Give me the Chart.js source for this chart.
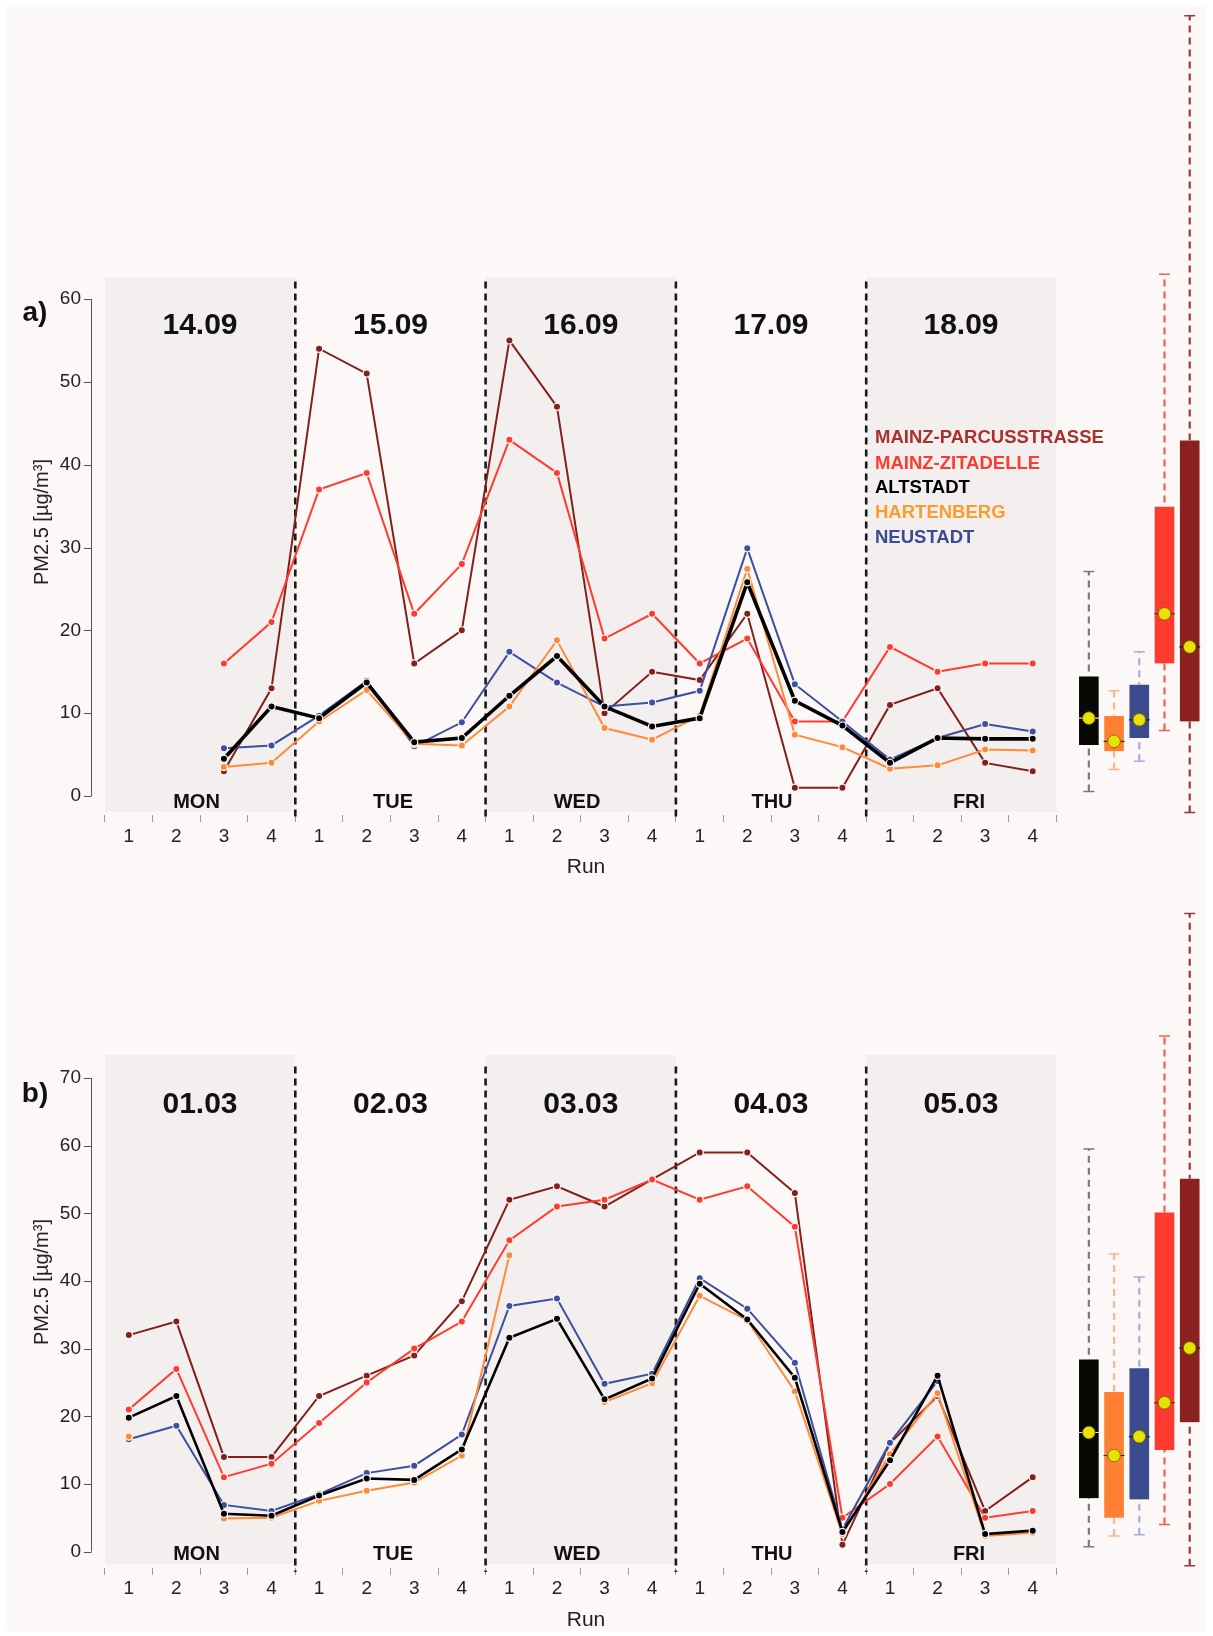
<!DOCTYPE html>
<html>
<head>
<meta charset="utf-8">
<script src="https://cdn.jsdelivr.net/npm/chart.js"></script>
<style>
  html, body { margin:0; padding:0; background:#ffffff; }
  #fig { position:relative; width:1213px; height:1636px; overflow:hidden; background:#ffffff; font-family:'Liberation Sans', Arial, sans-serif; }
  #inner { position:absolute; left:7px; top:5px; width:1199px; height:1626px; background:#fcf8f7; }
  canvas { position:absolute; left:0; }
  .t { position:absolute; white-space:nowrap; line-height:1; transform:translate(-50%,-50%); color:#111; }
  .l { position:absolute; white-space:nowrap; line-height:1; transform:translate(0,-50%); font-weight:bold; font-size:18.5px; }
</style>
</head>
<body>
<div id="fig">
  <div id="inner"></div>
  <canvas id="cA" width="1213" height="880" style="top:0px"></canvas>
  <canvas id="cB" width="1213" height="756" style="top:880px"></canvas>
</div>
<script>
// ---------------- DATA ----------------
const runLabels = ['1','2','3','4','1','2','3','4','1','2','3','4','1','2','3','4','1','2','3','4'];
const dayLabels = ['MON','TUE','WED','THU','FRI'];
const datesA = ['14.09','15.09','16.09','17.09','18.09'];
const datesB = ['01.03','02.03','03.03','04.03','05.03'];
const stations = ['MAINZ-PARCUSSTRASSE','MAINZ-ZITADELLE','ALTSTADT','HARTENBERG','NEUSTADT'];
const yTicksA = [0,10,20,30,40,50,60];
const yTicksB = [0,10,20,30,40,50,60,70];

// Panel a (September)
const parcusA   = [null,null,3,13,   54,51,16,20,   55,47,10,15,   14,22,1,1,     11,13,4,3];
const zitadelleA= [null,null,16,21,  37,39,22,28,   43,39,19,22,   16,19,9,9,     18,15,16,16];
const altstadtA = [null,null,4.5,10.8, 9.4,13.7,6.5,7.0, 12.1,16.9,10.8,8.4, 9.4,25.8,11.5,8.5, 4.0,7.0,6.9,6.9];
const hartenA   = [null,null,3.5,4.0, 9.0,12.8,6.3,6.1, 10.8,18.8,8.2,6.8, 9.7,27.4,7.4,5.9, 3.3,3.7,5.6,5.5];
const neustadtA = [null,null,5.75,6.1, 9.7,13.9,6.0,8.9, 17.4,13.7,10.8,11.3, 12.7,29.9,13.5,9.0, 4.4,7.0,8.7,7.8];

// Panel b (March)
const parcusB   = [32,34,14,14,   23,26,29,37,   52,54,51,55,   59,59,53,1,    16,23,6,11];
const zitadelleB= [21,27,11,13,   19,25,30,34,   46,51,52,55,   52,54,48,5,    10,17,5,6];
const altstadtB = [19.8,23,5.6,5.3, 8.3,10.8,10.6,15.1, 31.6,34.4,22.5,25.6, 39.6,34.3,25.7,2.9, 13.5,26,2.6,3.1];
const hartenB   = [17,null,4.9,5.0, 7.5,9.0,10.2,14.2, 43.8,null,22.1,24.9, 37.8,34.2,23.7,2.6, 14.4,23.4,2.3,2.8];
const neustadtB = [16.6,18.6,6.9,6.0, 8.5,11.6,12.7,17.3, 36.3,37.4,24.8,26.3, 40.4,35.9,27.9,3.3, 16.1,25.2,null,null];

// Box plots, order: ALTSTADT, HARTENBERG, NEUSTADT, MAINZ-ZITADELLE, MAINZ-PARCUSSTRASSE
const boxStations = ['ALTSTADT','HARTENBERG','NEUSTADT','MAINZ-ZITADELLE','MAINZ-PARCUSSTRASSE'];
const boxMinA = [0.55, 3.2, 4.2, 7.9, -2.0];
const boxQ1A  = [6.15, 5.4, 7.0, 16.0, 9.0];
const boxMedA = [9.4, 6.6, 9.2, 22.0, 18.0];
const boxQ3A  = [14.5, 9.75, 13.5, 35.0, 43.0];
const boxMaxA = [27.1, 12.7, 17.4, 63.0, 94.2];

const boxMinB = [0.7, 2.3, 2.5, 4.0, -2.1];
const boxQ1B  = [7.9, 5.0, 7.7, 15.0, 19.1];
const boxMedB = [17.6, 14.2, 17.0, 22.0, 30.1];
const boxQ3B  = [28.5, 23.7, 27.2, 50.2, 55.2];
const boxMaxB = [59.5, 44.0, 40.6, 76.2, 94.3];

// ---------------- STYLE ----------------
Chart.defaults.font.family = "'Liberation Sans', Arial, sans-serif";
const BG = '#fcf8f7';
const BAND = '#f4efef';
const COL = { parcus:'#83201b', zitadelle:'#ff3b30', altstadt:'#000000', harten:'#ff8a3a', neustadt:'#3d4f9f' };
const LEGCOL = ['#a9302f','#ff3a30','#000000','#ff9b2e','#3b4a96'];
const BOXFILL = ['#080804','#ff8033','#3b4b8d','#ff3b2f','#89221e'];
const WHISK = ['#7a7a7a','#ffb48a','#a9acd6','#ff5a4a','#9b3a35'];
const MEDLINE = ['#dddddd','#333333','#222222','#333333','#222222'];
const UNIT = 47.575;         // px per run
const X_LEFT = 105;
const X_MAX = 23.2;
const BOX_X0 = 20.68, BOX_DX = 0.53, CAP = 0.115, HALF = 0.22;

function zeroPad(s) { s.paddingTop = 0; s.paddingBottom = 0; s.paddingLeft = 0; s.paddingRight = 0; }

function buildPanel(canvas, p) {
  const defs = [
    {name:stations[0], data:p.parcus,    color:COL.parcus,    w:2,   order:14},
    {name:stations[1], data:p.zitadelle, color:COL.zitadelle, w:2,   order:13},
    {name:stations[4], data:p.neustadt,  color:COL.neustadt,  w:2,   order:12},
    {name:stations[3], data:p.harten,    color:COL.harten,    w:2,   order:11},
    {name:stations[2], data:p.altstadt,  color:COL.altstadt,  w:p.blackW, order:10},
  ];
  const datasets = defs.map(s => ({
    type:'line', label:s.name,
    data: s.data.map((v,i) => ({x:i+0.5, y:v})),
    borderColor:s.color, backgroundColor:s.color, borderWidth:s.w,
    pointRadius:3.6, pointBackgroundColor:s.color, pointBorderColor:BG, pointBorderWidth:1.2,
    spanGaps:false, tension:0, order:s.order
  }));
  const xs = boxStations.map((_,i) => BOX_X0 + i*BOX_DX);
  datasets.push({
    type:'bar', label:'box',
    data: xs.map((x,i) => ({x:x, y:[p.q1[i], p.q3[i]]})),
    backgroundColor:BOXFILL, borderColor:'rgba(255,255,255,0.35)', borderWidth:1,
    barThickness:21, order:40
  });
  xs.forEach((x,i) => {
    datasets.push({type:'line', data:[{x:x,y:p.min[i]},{x:x,y:p.max[i]}],
      borderColor:WHISK[i], borderWidth:2.2, borderDash:[7,5], pointRadius:0, order:50});
    datasets.push({type:'line', data:[{x:x-CAP,y:p.max[i]},{x:x+CAP,y:p.max[i]},{x:x,y:null},{x:x-CAP,y:p.min[i]},{x:x+CAP,y:p.min[i]}],
      borderColor:WHISK[i], borderWidth:1.5, pointRadius:0, spanGaps:false, order:50});
    datasets.push({type:'line', data:[{x:x-HALF,y:p.med[i]},{x:x+HALF,y:p.med[i]}],
      borderColor:MEDLINE[i], borderWidth:1.2, pointRadius:0, order:30});
  });
  datasets.push({type:'line', showLine:false, data: xs.map((x,i) => ({x:x, y:p.med[i]})),
    pointRadius:6.3, pointBackgroundColor:'#e9e200', pointBorderColor:'#6b6400', pointBorderWidth:0.8, order:20});

  const deco = {
    id:'deco',
    beforeDatasetsDraw(chart) {
      const {ctx, scales:{x, y}} = chart;
      ctx.save();
      ctx.fillStyle = BAND;
      [0,2,4].forEach(d => {
        const x0 = x.getPixelForValue(d*4), x1 = x.getPixelForValue(d*4+4);
        const y0 = y.getPixelForValue(p.bandTop), y1 = y.getPixelForValue(p.bandBottom);
        ctx.fillRect(x0, y0, x1-x0, y1-y0);
      });
      ctx.strokeStyle = '#1a1a1a'; ctx.lineWidth = 2.6; ctx.setLineDash([7,5]);
      [4,8,12,16].forEach(b => {
        const px = x.getPixelForValue(b);
        ctx.beginPath();
        ctx.moveTo(px, y.getPixelForValue(p.dashTop));
        ctx.lineTo(px, y.getPixelForValue(p.dashBottom));
        ctx.stroke();
      });
      ctx.restore();
    },
    afterDraw(chart) {
      const {ctx, scales:{y}} = chart;
      ctx.save();
      ctx.strokeStyle = '#555'; ctx.lineWidth = 1;
      const ax = 91.5;
      ctx.beginPath();
      ctx.moveTo(ax, y.getPixelForValue(p.yTicks[0]));
      ctx.lineTo(ax, y.getPixelForValue(p.yTicks[p.yTicks.length-1]));
      p.yTicks.forEach(v => {
        const py = Math.round(y.getPixelForValue(v)) + 0.5;
        ctx.moveTo(84, py); ctx.lineTo(ax, py);
      });
      ctx.stroke();
      ctx.restore();
    }
  };

  return new Chart(canvas, {
    type:'line',
    data:{ datasets },
    options:{
      responsive:false, animation:false, events:[],
      layout:{ autoPadding:false, padding:{ left:0, right: 1213 - (X_LEFT + X_MAX*UNIT), top:p.padTop, bottom:0 } },
      plugins:{ legend:{display:false}, tooltip:{enabled:false} },
      scales:{
        x:{ type:'linear', min:0, max:X_MAX, bounds:'data', offset:false,
          afterBuildTicks: s => { s.ticks = runLabels.map((_,i) => ({value:i+0.5})); },
          afterFit: s => { s.height = p.xAxisH; zeroPad(s); },
          ticks:{ autoSkip:false, maxRotation:0, minRotation:0, padding:3, color:'#222', font:{size:19},
                  callback:(v,i) => runLabels[i] },
          grid:{ display:true, drawOnChartArea:false, drawTicks:true, tickLength:7, color:'#9a9a9a', lineWidth:1 },
          border:{ display:false }
        },
        y:{ type:'linear', min:p.ymin, max:p.ymax, bounds:'data',
          afterBuildTicks: s => { s.ticks = p.yTicks.map(v => ({value:v})); },
          afterFit: s => { s.width = X_LEFT; zeroPad(s); },
          ticks:{ padding:16, color:'#222', font:{size:19} },
          grid:{ display:false },
          border:{ display:false }
        }
      }
    },
    plugins:[deco]
  });
}

// Panel a: 0 -> 796px, 8.2833 px/unit ; top padding 4
buildPanel(document.getElementById('cA'), {
  parcus:parcusA, zitadelle:zitadelleA, altstadt:altstadtA, harten:hartenA, neustadt:neustadtA,
  min:boxMinA, q1:boxQ1A, med:boxMedA, q3:boxQ3A, max:boxMaxA,
  yTicks:yTicksA, ymin:-2.3, ymax:(796-4)/8.2833, padTop:4, xAxisH: 880 - (796 + 2.3*8.2833),
  bandTop:62.66, bandBottom:-1.87, dashTop:62.1, dashBottom:-2.54, blackW:3.6
});
// Panel b: 0 -> 671.6px (canvas), 6.766 px/unit ; top padding 4
buildPanel(document.getElementById('cB'), {
  parcus:parcusB, zitadelle:zitadelleB, altstadt:altstadtB, harten:hartenB, neustadt:neustadtB,
  min:boxMinB, q1:boxQ1B, med:boxMedB, q3:boxQ3B, max:boxMaxB,
  yTicks:yTicksB, ymin:-2.4, ymax:(671.6-4)/6.766, padTop:4, xAxisH: 756 - (671.6 + 2.4*6.766),
  bandTop:73.4, bandBottom:-1.91, dashTop:71.7, dashBottom:-3.0, blackW:2.6
});

// ---------------- TEXT ----------------
const fig = document.getElementById('fig');
function txt(s, x, y, css, cls) {
  const d = document.createElement('div');
  d.className = cls || 't';
  d.textContent = s;
  d.style.left = x + 'px'; d.style.top = y + 'px';
  Object.assign(d.style, css || {});
  fig.appendChild(d);
  return d;
}
const dateX = [200, 390.5, 580.8, 771, 961];
const dayX = [196.5, 393, 577, 772, 969];
function panelText(letter, dates, yLetter, yDate, yDay, yRun, yTitle) {
  txt(letter, 35, yLetter, {fontWeight:'bold', fontSize:'28px'});
  dates.forEach((d,i) => txt(d, dateX[i], yDate, {fontWeight:'bold', fontSize:'30px'}));
  dayLabels.forEach((d,i) => txt(d, dayX[i], yDay, {fontWeight:'bold', fontSize:'20px'}));
  txt('Run', 586, yRun, {fontSize:'21px', color:'#222'});
  txt('PM2.5 [µg/m³]', 41, yTitle, {fontSize:'20px', color:'#222', transform:'translate(-50%,-50%) rotate(-90deg)'});
}
panelText('a)', datesA, 312, 323.6, 801, 865, 521.6);
panelText('b)', datesB, 1093, 1102.7, 1553, 1617.5, 1282);
const legY = [437, 462.5, 487.4, 512.3, 537];
stations.forEach((s,i) => txt(s, 875, legY[i], {color:LEGCOL[i]}, 'l'));
</script>
</body>
</html>
